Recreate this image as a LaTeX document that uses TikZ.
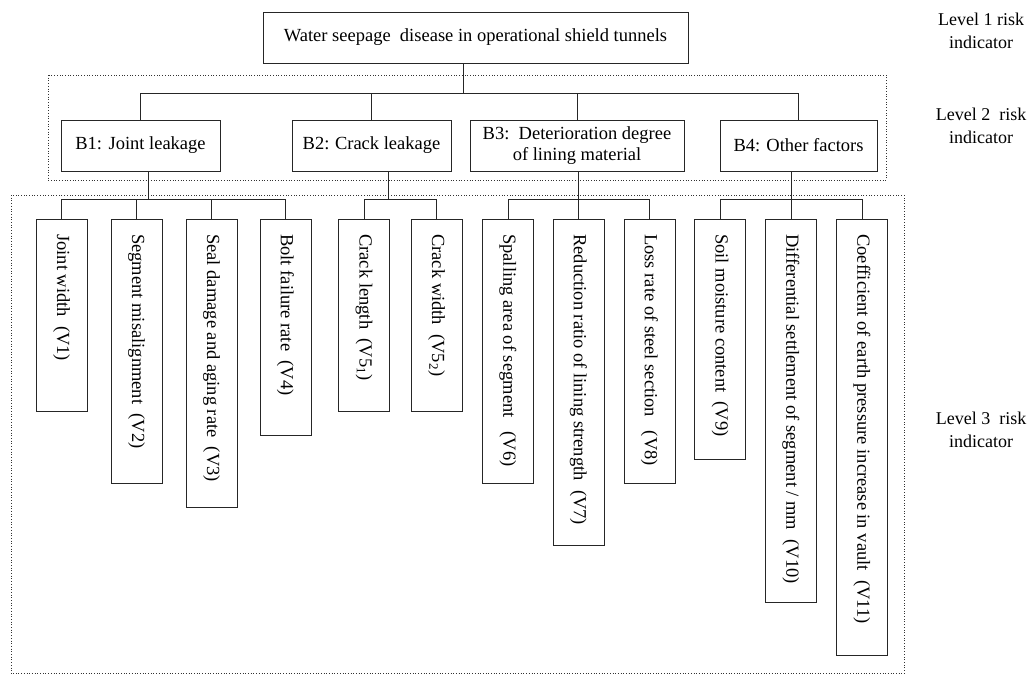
\documentclass[tikz,border=0pt]{standalone}
\usepackage{fontspec}
\setmainfont{Liberation Serif}
\newcommand\leafnode[4]{%
  \node[box, minimum width=51pt, minimum height={#3-219}, anchor=north] (#1) at (#2,219) {};
  \node[leaftext] (#1t) at ([yshift=-15pt]#1.north) {#4};
}
\begin{document}
\begin{tikzpicture}[x=1pt,y=-1pt,
  every node/.style={font=\fontsize{18.5}{20.5}\selectfont, text=black},
  box/.style={draw=black!85, line width=0.9pt, rectangle, inner sep=0pt, align=center},
  link/.style={draw=black!85, line width=0.9pt},
  group/.style={draw=black!80, dotted, line width=0.7pt},
  leaftext/.style={rotate=-90, anchor=west, inner sep=0pt},
  lvl/.style={align=center, font=\fontsize{18}{23}\selectfont}]
\useasboundingbox (0,0) rectangle (1031,675);

% groups
\draw[group] (48,75) rectangle (886,180);
\draw[group] (11,195) rectangle (904,673.5);

% level 1
\node[box, minimum width=425pt, minimum height=51pt] (top) at (475.5,37.5) {Water seepage\ \ disease in operational shield tunnels};

% level 2
\node[box, minimum width=159pt, minimum height=51pt] (b1) at (140.5,145.5) {B1:\hspace{0.35em}Joint leakage};
\node[box, minimum width=159pt, minimum height=51pt] (b2) at (371.5,145.5) {B2:\hspace{0.3em}Crack leakage};
\node[box, minimum width=214pt, minimum height=51pt] (b3) at (577,145.5) {B3:\ \ Deterioration degree\\of lining material};
\node[box, minimum width=157pt, minimum height=51pt] (b4) at (798.5,145.5) {B4: Other factors};

\draw[link] ([xshift=-12pt]top.south) -- ++(0,30) coordinate (j0);
\draw[link] (b1.north) |- (j0) -| (b4.north);
\draw[link] (b2.north) -- (b2.north |- j0);
\draw[link] (b3.north) -- (b3.north |- j0);

% level 3
\leafnode{v1}{61.5}{411}{Joint width\ \ (V1)}
\leafnode{v2}{136.5}{483}{Segment misalignment\ \ (V2)}
\leafnode{v3}{211.5}{507}{Seal damage and aging rate\ \ (V3)}
\leafnode{v4}{285.5}{435}{Bolt failure rate\ \ (V4)}
\leafnode{v51}{364}{411}{Crack length\ \ (V5\textsubscript{1})}
\leafnode{v52}{436.5}{411}{Crack width\ \ (V5\textsubscript{2})}
\leafnode{v6}{508}{483}{Spalling area of segment\ \ \ (V6)}
\leafnode{v7}{578.5}{545}{Reduction ratio of lining strength\ \ (V7)}
\leafnode{v8}{649.5}{483}{Loss rate of steel section\ \ \ (V8)}
\leafnode{v9}{720}{459}{Soil moisture content\ \ (V9)}
\leafnode{v10}{791}{602}{Differential settlement of segment / mm\ \ (V10)}
\leafnode{v11}{862}{655}{Coefficient of earth pressure increase in vault\ \ (V11)}

\draw[link] ([xshift=7.5pt]b1.south) -- ++(0,28) coordinate (j1);
\draw[link] (v1.north) |- (j1) -| (v4.north);
\draw[link] (v2.north) -- (v2.north |- j1);
\draw[link] (v3.north) -- (v3.north |- j1);

\draw[link] ([xshift=16.5pt]b2.south) -- ++(0,28) coordinate (j2);
\draw[link] (v51.north) |- (j2) -| (v52.north);

\draw[link] ([xshift=1pt]b3.south) -- ++(0,28) coordinate (j3);
\draw[link] (v6.north) |- (j3) -| (v8.north);
\draw[link] (v7.north) -- (v7.north |- j3);

\draw[link] ([xshift=-7.5pt]b4.south) -- ++(0,28) coordinate (j4);
\draw[link] (v9.north) |- (j4) -| (v11.north);
\draw[link] (v10.north) -- (v10.north |- j4);

% level labels
\node[lvl] (l1) at (981,31) {Level 1 risk\\indicator};
\node[lvl] (l2) at (981,126) {Level 2\ \ risk\\indicator};
\node[lvl] (l3) at (981,430) {Level 3\ \ risk\\indicator};
\end{tikzpicture}
\end{document}
